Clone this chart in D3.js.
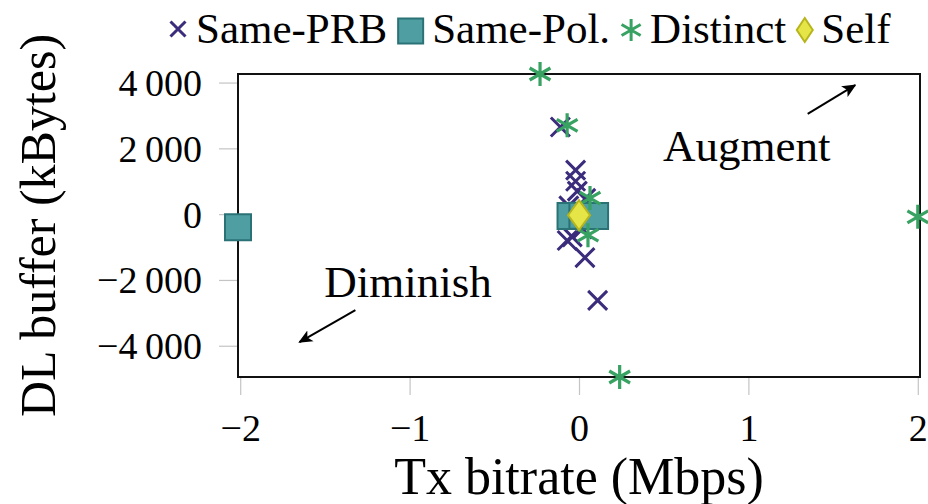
<!DOCTYPE html>
<html>
<head>
<meta charset="utf-8">
<script src="https://cdn.jsdelivr.net/npm/d3@7"></script>
<style>
  body { margin: 0; background: #fff; }
  text { font-family: "Liberation Serif", "DejaVu Serif", serif; fill: #000; }
</style>
</head>
<body>
<div id="chart"></div>
<script>
// Tx bitrate (Mbps), DL buffer (kBytes)
var samePrb = [
  [-0.11, 2650], [-0.02, 1340], [-0.02, 1000], [-0.01, 700], [0.04, 480],
  [-0.06, 250], [-0.05, -150], [0.02, -450], [-0.04, -690], [-0.07, -800],
  [0.035, -1320], [0.11, -2620]
];
var samePol = [[-2.013, -400], [-0.05, -60], [0.02, -50], [0.095, -60]];
var distinct = [[-0.23, 4260], [-0.07, 2700], [0.065, 490], [0.053, -640], [0.24, -4950], [2.0, -80]];
var self = [[0, -30]];

var xTicks = [-2, -1, 0, 1, 2];
var yTicks = [-4000, -2000, 0, 2000, 4000];
var legendLabels = ["Same-PRB", "Same-Pol.", "Distinct", "Self"];
var annotations = [
  { text: "Augment", x: 0.99, y: 2100, from: [1.35, 3050], to: [1.63, 3920] },
  { text: "Diminish", x: -1.01, y: -2040, from: [-1.32, -2920], to: [-1.65, -3890] }
];

var W = 928, H = 504;
var plot = { left: 238, right: 920, top: 74, bottom: 377 };

var x = d3.scaleLinear().domain([-2.013, 2.013]).range([plot.left, plot.right]);
var y = d3.scaleLinear().domain([-4950, 4260]).range([plot.bottom, plot.top]);

var colors = {
  prb: "#3b2c7c",
  polFill: "#4f9ea2", polStroke: "#2b7277",
  distinct: "#38a262",
  selfFill: "#e5e548", selfStroke: "#b7b51c"
};

function crossPath(cx, cy, r) {
  return "M" + (cx - r) + "," + (cy - r) + "L" + (cx + r) + "," + (cy + r) +
    "M" + (cx - r) + "," + (cy + r) + "L" + (cx + r) + "," + (cy - r);
}
function starPath(cx, cy, r) {
  var p = "";
  [90, 210, 330].forEach(function (a) {
    var t = a * Math.PI / 180;
    var dx = r * Math.cos(t), dy = r * Math.sin(t);
    p += "M" + (cx - dx) + "," + (cy - dy) + "L" + (cx + dx) + "," + (cy + dy);
  });
  return p;
}
function diamondPath(cx, cy, w, h) {
  return "M" + cx + "," + (cy - h) + "L" + (cx + w) + "," + cy + "L" + cx + "," + (cy + h) +
    "L" + (cx - w) + "," + cy + "Z";
}
function squarePath(cx, cy, s) {
  return "M" + (cx - s) + "," + (cy - s) + "h" + 2 * s + "v" + 2 * s + "h" + -2 * s + "Z";
}

var svg = d3.select("#chart").append("svg").attr("width", W).attr("height", H);

svg.append("defs").append("marker")
  .attr("id", "head")
  .attr("viewBox", "0 0 10 10")
  .attr("refX", 9).attr("refY", 5)
  .attr("markerWidth", 7).attr("markerHeight", 7)
  .attr("orient", "auto")
  .append("path")
  .attr("d", "M0,0.5L10,5L0,9.5L2.5,5Z")
  .attr("fill", "#000");

// axes
var fmt = d3.formatLocale({ decimal: ".", thousands: "\u2009", grouping: [3], currency: ["", ""], minus: "\u2212" }).format(",");

var xAxis = svg.append("g")
  .attr("transform", "translate(0," + plot.bottom + ")")
  .call(d3.axisBottom(x).tickValues(xTicks).tickSize(18).tickSizeOuter(0).tickFormat(fmt));
var yAxis = svg.append("g")
  .attr("transform", "translate(" + plot.left + ",0)")
  .call(d3.axisLeft(y).tickValues(yTicks).tickSize(19).tickSizeOuter(0).tickFormat(fmt));

[xAxis, yAxis].forEach(function (g) {
  g.select(".domain").remove();
  g.selectAll(".tick line").attr("stroke", "#c4c4c4").attr("stroke-width", 1.2);
  g.selectAll(".tick text").style("font-size", "38px").attr("fill", "#000");
});
xAxis.selectAll(".tick text").attr("y", 64).attr("dy", null);
yAxis.selectAll(".tick text").attr("x", -36).attr("dy", "0.34em");

svg.append("rect")
  .attr("x", plot.left).attr("y", plot.top)
  .attr("width", plot.right - plot.left).attr("height", plot.bottom - plot.top)
  .attr("fill", "none").attr("stroke", "#111").attr("stroke-width", 2);

svg.append("text")
  .attr("x", (plot.left + plot.right) / 2).attr("y", 494)
  .attr("text-anchor", "middle")
  .style("font-size", "52px")
  .text("Tx bitrate (Mbps)");

svg.append("text")
  .attr("transform", "translate(55," + (plot.top + plot.bottom) / 2 + ") rotate(-90)")
  .attr("text-anchor", "middle")
  .style("font-size", "50px")
  .text("DL buffer (kBytes)");

// annotations
annotations.forEach(function (a) {
  svg.append("text")
    .attr("x", x(a.x)).attr("y", y(a.y))
    .attr("text-anchor", "middle").attr("dy", "0.35em")
    .style("font-size", "45px")
    .text(a.text);
  svg.append("line")
    .attr("x1", x(a.from[0])).attr("y1", y(a.from[1]))
    .attr("x2", x(a.to[0])).attr("y2", y(a.to[1]))
    .attr("stroke", "#000").attr("stroke-width", 2)
    .attr("marker-end", "url(#head)");
});

// marks
svg.append("g").selectAll("path").data(samePrb).enter().append("path")
  .attr("d", function (d) { return crossPath(x(d[0]), y(d[1]), 9.5); })
  .attr("stroke", colors.prb).attr("stroke-width", 3).attr("fill", "none");

svg.append("g").selectAll("path").data(samePol).enter().append("path")
  .attr("d", function (d) { return squarePath(x(d[0]), y(d[1]), 13); })
  .attr("fill", colors.polFill).attr("stroke", colors.polStroke).attr("stroke-width", 2);

svg.append("g").selectAll("path").data(distinct).enter().append("path")
  .attr("d", function (d) { return starPath(x(d[0]), y(d[1]), 12); })
  .attr("stroke", colors.distinct).attr("stroke-width", 3.2).attr("fill", "none");

svg.append("g").selectAll("path").data(self).enter().append("path")
  .attr("d", function (d) { return diamondPath(x(d[0]), y(d[1]), 11, 15); })
  .attr("fill", colors.selfFill).attr("stroke", colors.selfStroke).attr("stroke-width", 2);

// legend
var legend = svg.append("g");
var cursor = 168, baseY = 43, midY = 30;
legendLabels.forEach(function (label, i) {
  var mw;
  if (i === 0) {
    mw = 20;
    legend.append("path").attr("d", crossPath(cursor + 10, midY - 1, 7.5))
      .attr("stroke", colors.prb).attr("stroke-width", 3).attr("fill", "none");
  } else if (i === 1) {
    mw = 27;
    legend.append("path").attr("d", squarePath(cursor + 13.5, midY + 1, 12.5))
      .attr("fill", colors.polFill).attr("stroke", colors.polStroke).attr("stroke-width", 2);
  } else if (i === 2) {
    mw = 22;
    legend.append("path").attr("d", starPath(cursor + 11, midY, 11))
      .attr("stroke", colors.distinct).attr("stroke-width", 3).attr("fill", "none");
  } else {
    mw = 17;
    legend.append("path").attr("d", diamondPath(cursor + 8.5, midY, 8, 12))
      .attr("fill", colors.selfFill).attr("stroke", colors.selfStroke).attr("stroke-width", 2);
  }
  var t = legend.append("text")
    .attr("x", cursor + mw + 8).attr("y", baseY)
    .style("font-size", "43px")
    .text(label);
  cursor = cursor + mw + 8 + t.node().getComputedTextLength() + 10;
});
</script>
</body>
</html>
